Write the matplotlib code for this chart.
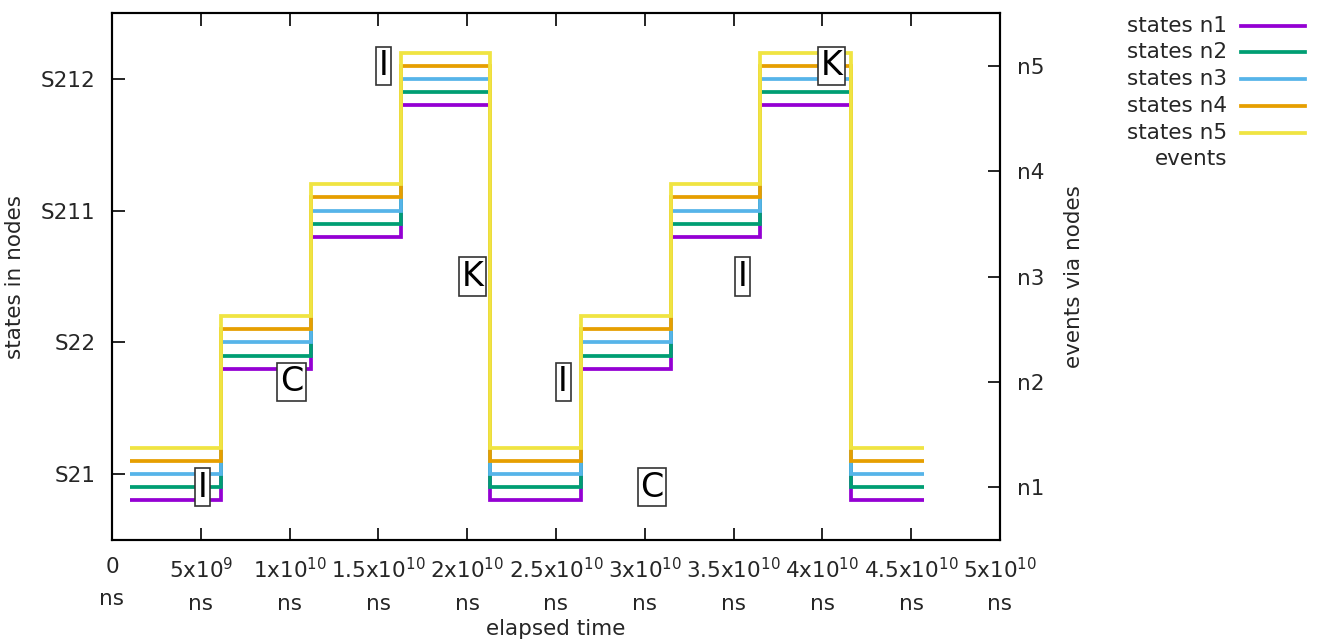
import matplotlib
matplotlib.use("Agg")
import matplotlib.pyplot as plt
from matplotlib.lines import Line2D
import numpy as np

plt.rcParams['font.family'] = ['DejaVu Sans']
plt.rcParams['mathtext.default'] = 'regular'

# state changes (elapsed time in ns) and state index per step
times = [1.0e9, 6.15e9, 1.12e10, 1.63e10, 2.13e10, 2.64e10, 3.15e10, 3.65e10, 4.16e10, 4.57e10]
states = [0, 1, 2, 3, 0, 1, 2, 3, 0, 0]
state_names = ['S21', 'S22', 'S211', 'S212']

node_names = ['n1', 'n2', 'n3', 'n4', 'n5']
node_offsets = [-0.2, -0.1, 0.0, 0.1, 0.2]
node_colors = ['#9400d3', '#009e73', '#56b4e9', '#e69f00', '#f0e442']

event_times = [5.1e9, 1.01e10, 1.53e10, 2.03e10, 2.54e10, 3.04e10, 3.55e10, 4.05e10]
event_nodes = [1, 2, 5, 3, 2, 1, 3, 5]
event_labels = ['I', 'C', 'I', 'K', 'I', 'C', 'I', 'K']

xticks = [0, 5e9, 1e10, 1.5e10, 2e10, 2.5e10, 3e10, 3.5e10, 4e10, 4.5e10, 5e10]
xticklabels = ['0\nns', '5x10$^{9}$\nns', '1x10$^{10}$\nns', '1.5x10$^{10}$\nns',
               '2x10$^{10}$\nns', '2.5x10$^{10}$\nns', '3x10$^{10}$\nns',
               '3.5x10$^{10}$\nns', '4x10$^{10}$\nns', '4.5x10$^{10}$\nns',
               '5x10$^{10}$\nns']

FS = 15.5
TXT = '#262626'

fig = plt.figure(figsize=(13.17, 6.43), dpi=100)
ax = fig.add_axes([112 / 1317, 103 / 643, 888 / 1317, 527 / 643])
ax2 = ax.twinx()

for off, col in zip(node_offsets, node_colors):
    ax.step(times, np.array(states) + off, where='post', color=col, lw=2.7,
            solid_joinstyle='miter', solid_capstyle='butt')

ax.set_xlim(0, 5e10)
ax.set_ylim(-0.5, 3.5)
ax.set_xticks(xticks)
ax.set_xticklabels(xticklabels, fontsize=FS, color=TXT, linespacing=1.75)
ax.set_yticks(range(len(state_names)))
ax.set_yticklabels(state_names, fontsize=FS, color=TXT)
ax.tick_params(axis='x', direction='in', length=9, width=1.2, top=True, pad=12)
ax.tick_params(axis='y', direction='in', length=9, width=1.2, pad=12)
ax.set_xlabel('elapsed time', fontsize=FS, color=TXT, labelpad=4)
ax.set_ylabel('states in nodes', fontsize=FS, color=TXT, labelpad=11)

ax2.set_ylim(0.5, 5.5)
ax2.set_yticks(range(1, len(node_names) + 1))
ax2.set_yticklabels(node_names, fontsize=FS, color=TXT)
ax2.tick_params(axis='y', direction='in', length=9, width=1.2, pad=12)
ax2.set_ylabel('events via nodes', fontsize=FS, color=TXT, labelpad=14)

for t, n, lab in zip(event_times, event_nodes, event_labels):
    ax2.text(t, n, lab, fontsize=24, ha='center', va='center', color='black',
             bbox=dict(boxstyle='square,pad=0.08', fc='white', ec='#333333', lw=1.2))

for a in (ax, ax2):
    for s in a.spines.values():
        s.set_linewidth(1.5)

# legend drawn by hand, text right aligned like gnuplot's key
rows_y = [26, 52, 79, 106, 133, 159]
for i, (name, col) in enumerate(zip(node_names, node_colors)):
    yf = 1 - rows_y[i] / 643
    fig.text(1227 / 1317, yf, 'states ' + name, fontsize=FS, color=TXT,
             ha='right', va='center')
    fig.add_artist(Line2D([1241 / 1317, 1305 / 1317], [yf, yf], color=col, lw=2.7))
fig.text(1227 / 1317, 1 - rows_y[5] / 643, 'events', fontsize=FS, color=TXT,
         ha='right', va='center')

fig.savefig('out.png', dpi=100)
